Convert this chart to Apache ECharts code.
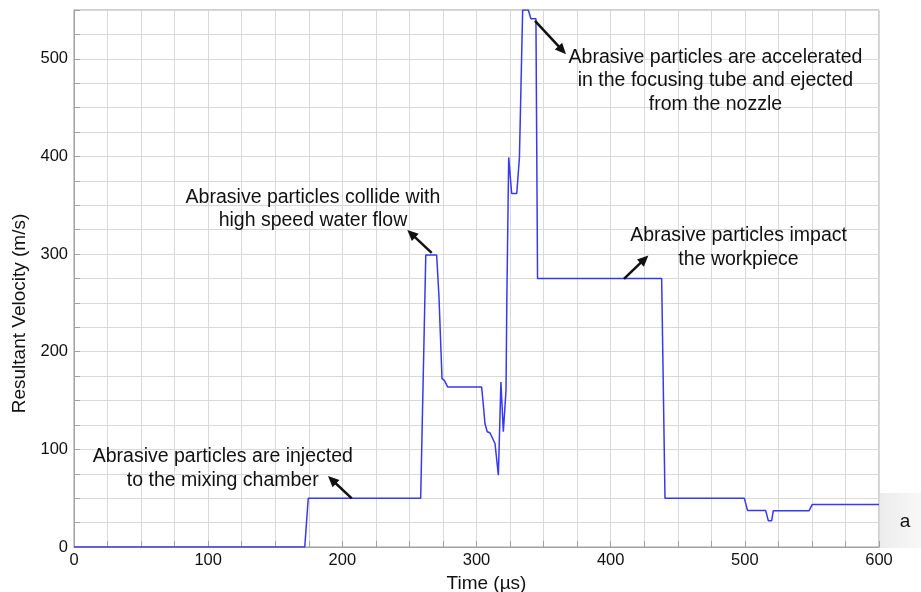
<!DOCTYPE html>
<html>
<head>
<meta charset="utf-8">
<script src="https://cdn.jsdelivr.net/npm/echarts@6/dist/echarts.min.js"></script>
<style>html,body{margin:0;padding:0;background:#fff}#c{width:921px;height:592px}</style>
</head>
<body>
<div id="c"></div>
<script>
// Time (µs)
const timeUs = [0, 172, 174.6, 258.4, 262.2, 270.3, 272, 274.3, 276, 278.5, 303.8, 305, 306.3, 308, 310, 313.8, 316.3, 318.2, 320, 322, 322.6, 324, 326.2, 330, 332, 334.4, 338.6, 340.6, 344.3, 345.5, 438, 440.5, 499.6, 502, 515.5, 517.5, 520, 521.2, 547.8, 550.3, 600];
// Resultant velocity (m/s)
const velocity = [0, 0, 50, 50, 299, 299, 257, 172.5, 170.7, 164, 164, 147, 126.5, 118, 117, 106, 73.6, 169, 118, 160.5, 252, 399, 362, 362, 399, 550, 550, 541, 541, 275, 275, 50, 50, 37.5, 37.5, 27, 27, 37, 37, 43.6, 43.6];

const xLabels = [0, 100, 200, 300, 400, 500, 600];
const yLabels = [0, 100, 200, 300, 400, 500];

// annotations: text centre, arrow tail, arrow head (data coords)
const annoText = [
  'Abrasive particles are injected\nto the mixing chamber',
  'Abrasive particles collide with\nhigh speed water flow',
  'Abrasive particles are accelerated\nin the focusing tube and ejected\nfrom the nozzle',
  'Abrasive particles impact\nthe workpiece'
];
const annoCenter = [[110.9, 80.4], [178.1, 346.3], [478.1, 477.5], [495.3, 306.5]];
const arrowTail = [[207, 49.8], [266.6, 301.3], [343.6, 538.9], [409.9, 274.7]];
const arrowHead = [[189.3, 72.6], [248.4, 324.8], [366.7, 504.8], [428.1, 298.6]];

const data = timeUs.map((t, i) => [t, velocity[i]]);
const FONT = '"Liberation Sans", Arial, sans-serif';

const chart = echarts.init(document.getElementById('c'), null, {renderer: 'canvas'});
const gridColor = '#d9d9d9';
chart.setOption({
  animation: false,
  grid: {left: 74, right: 42, top: 10, bottom: 45, show: true, borderColor: '#a0a0a0', borderWidth: 1,
    containLabel: false, outerBoundsMode: 'none'},
  xAxis: {
    type: 'value', min: 0, max: 600, interval: 25,
    name: 'Time (µs)', nameLocation: 'middle', nameGap: 18,
    nameTextStyle: {fontFamily: FONT, fontSize: 19, color: '#111', padding: [0, 0, 0, 20]},
    axisLine: {lineStyle: {color: '#a0a0a0'}},
    axisTick: {show: true, inside: true, length: 6, lineStyle: {color: '#a0a0a0'}},
    axisLabel: {fontFamily: FONT, fontSize: 16.5, color: '#111', margin: 5,
      formatter: v => xLabels.includes(v) ? String(v) : ''},
    splitLine: {show: true, lineStyle: {color: gridColor, width: 1}}
  },
  yAxis: {
    type: 'value', min: 0, max: 550, interval: 25,
    name: 'Resultant Velocity (m/s)', nameLocation: 'middle', nameGap: 40,
    nameTextStyle: {fontFamily: FONT, fontSize: 19, color: '#111', padding: [0, 70, 0, 0]},
    axisLine: {show: true, lineStyle: {color: '#a0a0a0'}},
    axisTick: {show: true, inside: true, length: 6, lineStyle: {color: '#a0a0a0'}},
    axisLabel: {fontFamily: FONT, fontSize: 16.5, color: '#111', margin: 6,
      formatter: v => yLabels.includes(v) ? String(v) : ''},
    splitLine: {show: true, lineStyle: {color: gridColor, width: 1}}
  },
  series: [{
    type: 'line', data: data, showSymbol: false, symbol: 'none',
    lineStyle: {color: '#3838ee', width: 1.5}, clip: true
  }]
});

function buildGraphics() {
  const els = [];
  annoText.forEach((txt, i) => {
    const c = chart.convertToPixel({gridIndex: 0}, annoCenter[i]);
    els.push({
      type: 'text', x: c[0], y: c[1], z: 10,
      style: {text: txt, fontFamily: FONT, fontSize: 19.5, lineHeight: 23.5, fill: '#111',
        align: 'center', verticalAlign: 'middle'}
    });
    const t = chart.convertToPixel({gridIndex: 0}, arrowTail[i]);
    const h = chart.convertToPixel({gridIndex: 0}, arrowHead[i]);
    const dx = h[0] - t[0], dy = h[1] - t[1];
    const len = Math.sqrt(dx * dx + dy * dy);
    const ux = dx / len, uy = dy / len;
    const hl = 11, hw = 5;
    const bx = h[0] - ux * hl, by = h[1] - uy * hl;
    els.push({type: 'line', z: 10, shape: {x1: t[0], y1: t[1], x2: bx + ux * 2, y2: by + uy * 2},
      style: {stroke: '#111', lineWidth: 2.5}});
    els.push({type: 'polygon', z: 10, shape: {points: [
      [h[0], h[1]], [bx - uy * hw, by + ux * hw], [bx + uy * hw, by - ux * hw]]},
      style: {fill: '#111'}});
  });
  // panel label box
  els.push({type: 'rect', z: 5, shape: {x: 880, y: 493, width: 41, height: 55},
    style: {fill: new echarts.graphic.LinearGradient(0, 0, 1, 0, [
      {offset: 0, color: '#ececec'}, {offset: 1, color: '#f8f8f8'}])}});
  els.push({type: 'text', z: 10, x: 905, y: 522,
    style: {text: 'a', fontFamily: FONT, fontSize: 19, fill: '#111', align: 'center', verticalAlign: 'middle'}});
  return els;
}
chart.setOption({graphic: buildGraphics()});
</script>
</body>
</html>
